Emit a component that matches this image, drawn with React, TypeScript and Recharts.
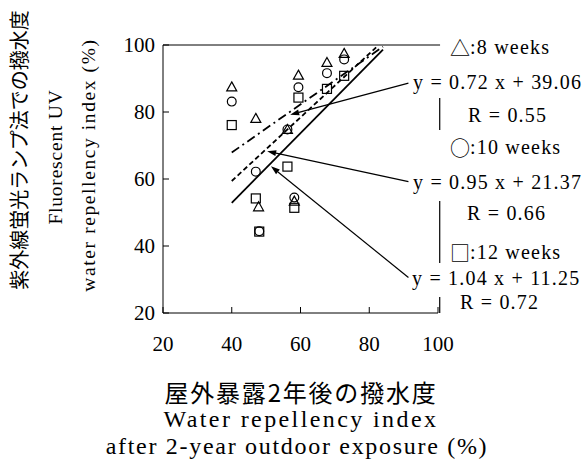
import React from 'react';
import { ComposedChart, Scatter, Line, XAxis, YAxis, ReferenceLine } from 'recharts';

// ---- data ----
const xTicks = [20, 40, 60, 80, 100];
const yTicks = [20, 40, 60, 80, 100];

const week8 = [
  { x: 40, y: 87.5 }, { x: 47, y: 78.1 }, { x: 47.8, y: 51.7 }, { x: 56.2, y: 74.8 },
  { x: 58.2, y: 53.4 }, { x: 59.4, y: 91 }, { x: 67.7, y: 94.8 }, { x: 72.7, y: 97.5 },
];
const week10 = [
  { x: 40, y: 83.1 }, { x: 47, y: 62.2 }, { x: 48, y: 44.4 }, { x: 56.2, y: 74.8 },
  { x: 58.2, y: 54.5 }, { x: 59.4, y: 87.4 }, { x: 67.7, y: 91.6 }, { x: 72.7, y: 95.7 },
];
const week12 = [
  { x: 40, y: 76.1 }, { x: 47, y: 54.2 }, { x: 48, y: 44.3 }, { x: 56.2, y: 63.7 },
  { x: 58.2, y: 51.4 }, { x: 59.4, y: 84.3 }, { x: 67.7, y: 86.9 }, { x: 72.7, y: 90.8 },
];

const fit8 = [{ x: 40, y: 67.9 }, { x: 84, y: 99.5 }];
const fit10 = [{ x: 40, y: 59.4 }, { x: 82, y: 99.3 }];
const fit12 = [{ x: 40, y: 52.9 }, { x: 84, y: 98.6 }];

// arrows from labels to the fitted lines (tail -> tip, data units)
const arrows = [
  { tail: { x: 91.4, y: 88.6 }, tip: { x: 57, y: 79.2 } },
  { tail: { x: 91.4, y: 59.2 }, tip: { x: 50.3, y: 68.3 } },
  { tail: { x: 91.4, y: 30.6 }, tip: { x: 51.4, y: 63.8 } },
];

// broken right-hand frame pieces (y ranges at x = 100)
const frameRight = [[74.6, 84.2], [34.9, 53.4], [20, 24.8]];

const legendLabels = ['△', '○', '□'];
const weekLabels = [':8 weeks', ':10 weeks', ':12 weeks'];
const equations = ['y = 0.72 x + 39.06', 'y = 0.95 x + 21.37', 'y = 1.04 x + 11.25'];
const rValues = ['R = 0.55', 'R = 0.66', 'R = 0.72'];

const yTitleJa = '紫外線蛍光ランプ法での撥水度';
const yTitleEn1 = 'Fluorescent UV';
const yTitleEn2 = 'water repellency index (%)';
const xTitleJa = '屋外暴露2年後の撥水度';
const xTitleEn1 = 'Water repellency index';
const xTitleEn2 = 'after 2-year outdoor exposure (%)';

// ---- shapes ----
const SW = 1.2;
const Tri = (p: any) => (
  <path d={`M${p.cx},${p.cy - 5} L${p.cx + 5},${p.cy + 4} L${p.cx - 5},${p.cy + 4} Z`}
    fill="none" stroke="#000" strokeWidth={SW} />
);
const Circ = (p: any) => (
  <circle cx={p.cx} cy={p.cy} r={4.4} fill="none" stroke="#000" strokeWidth={SW} />
);
const Sq = (p: any) => (
  <rect x={p.cx - 4.5} y={p.cy - 4.5} width={9} height={9} fill="none" stroke="#000" strokeWidth={SW} />
);

const ArrowShape = (p: any) => {
  const { x1, y1, x2, y2 } = p;
  const dx = x2 - x1, dy = y2 - y1;
  const len = Math.sqrt(dx * dx + dy * dy) || 1;
  const ux = dx / len, uy = dy / len;
  const L = 9, W = 3;
  const bx = x2 - ux * L, by = y2 - uy * L;
  return (
    <g>
      <line x1={x1} y1={y1} x2={bx} y2={by} stroke="#000" strokeWidth={1.2} />
      <path d={`M${x2},${y2} L${bx - uy * W},${by + ux * W} L${bx + uy * W},${by - ux * W} Z`} fill="#000" />
    </g>
  );
};

const SERIF = "'Liberation Serif', 'Times New Roman', serif";
const CJK = "'Noto Sans CJK JP', sans-serif";

export default function App() {
  const annFont = { fontFamily: SERIF, fontSize: 20, letterSpacing: 1.2, fill: '#000' } as any;
  const legendY = [47, 147, 252];
  const eqY = [82, 182, 278];
  const eqX = [413, 413, 412];
  const rY = [115, 213, 302];
  const rX = [468, 467, 460];
  return (
    <div style={{ position: 'absolute', left: 0, top: 0, width: 588, height: 459, background: '#fff' }}>
      <ComposedChart width={588} height={459} margin={{ top: 45, right: 150, bottom: 106, left: 103 }}>
        <XAxis type="number" dataKey="x" domain={[20, 100]} ticks={xTicks} allowDataOverflow
          height={40} tickSize={-6} tickMargin={29} stroke="#000"
          tick={{ fill: '#000', fontFamily: SERIF, fontSize: 21 }} />
        <YAxis type="number" dataKey="y" domain={[20, 100]} ticks={yTicks} allowDataOverflow
          width={60} tickSize={-6} tickMargin={14} stroke="#000"
          tick={{ fill: '#000', fontFamily: SERIF, fontSize: 21 }} />
        <ReferenceLine segment={[{ x: 20, y: 100 }, { x: 100.6, y: 100 }]} stroke="#000" strokeWidth={1} ifOverflow="visible" />
        {frameRight.map((r, i) => (
          <ReferenceLine key={'fr' + i} segment={[{ x: 100.5, y: r[0] }, { x: 100.5, y: r[1] }]} stroke="#000" strokeWidth={1.2} ifOverflow="visible" />
        ))}
        <Line data={fit8} dataKey="y" stroke="#000" strokeWidth={1.8} strokeDasharray="9 4 2 4" dot={false} isAnimationActive={false} />
        <Line data={fit10} dataKey="y" stroke="#000" strokeWidth={1.8} strokeDasharray="5 3" dot={false} isAnimationActive={false} />
        <Line data={fit12} dataKey="y" stroke="#000" strokeWidth={1.8} dot={false} isAnimationActive={false} />
        <Scatter data={week8} dataKey="y" shape={Tri} isAnimationActive={false} />
        <Scatter data={week10} dataKey="y" shape={Circ} isAnimationActive={false} />
        <Scatter data={week12} dataKey="y" shape={Sq} isAnimationActive={false} />
        {arrows.map((a, i) => (
          <ReferenceLine key={'ar' + i} segment={[a.tail, a.tip]} ifOverflow="visible" shape={ArrowShape} />
        ))}
      </ComposedChart>
      <svg width={588} height={459} style={{ position: 'absolute', left: 0, top: 0, pointerEvents: 'none' }}>
        {legendLabels.map((s, i) => (
          <text key={'lg' + i} x={450} y={legendY[i]} dominantBaseline="central" style={annFont}>
            <tspan style={{ fontFamily: CJK, letterSpacing: 0 }}>{s}</tspan>{weekLabels[i]}
          </text>
        ))}
        {equations.map((s, i) => (
          <text key={'eq' + i} x={eqX[i]} y={eqY[i]} dominantBaseline="central" style={annFont}>{s}</text>
        ))}
        {rValues.map((s, i) => (
          <text key={'r' + i} x={rX[i]} y={rY[i]} dominantBaseline="central" style={annFont}>{s}</text>
        ))}
        <text transform="translate(18,150) rotate(-90)" textAnchor="middle" dominantBaseline="central"
          style={{ fontFamily: CJK, fontSize: 20, fill: '#000' }}>{yTitleJa}</text>
        <text transform="translate(55,157) rotate(-90)" textAnchor="middle" dominantBaseline="central"
          style={{ fontFamily: SERIF, fontSize: 19.5, letterSpacing: 0.8, fill: '#000' }}>{yTitleEn1}</text>
        <text transform="translate(88,165) rotate(-90)" textAnchor="middle" dominantBaseline="central"
          style={{ fontFamily: SERIF, fontSize: 19.5, letterSpacing: 1.6, fill: '#000' }}>{yTitleEn2}</text>
        <text x={301} y={391} textAnchor="middle" dominantBaseline="central"
          style={{ fontFamily: CJK, fontSize: 24, letterSpacing: 1.8, fill: '#000' }}>{xTitleJa}</text>
        <text x={301} y={419} textAnchor="middle" dominantBaseline="central"
          style={{ fontFamily: SERIF, fontSize: 24, letterSpacing: 2.4, fill: '#000' }}>{xTitleEn1}</text>
        <text x={297} y={446} textAnchor="middle" dominantBaseline="central"
          style={{ fontFamily: SERIF, fontSize: 24, letterSpacing: 1.7, fill: '#000' }}>{xTitleEn2}</text>
      </svg>
    </div>
  );
}
